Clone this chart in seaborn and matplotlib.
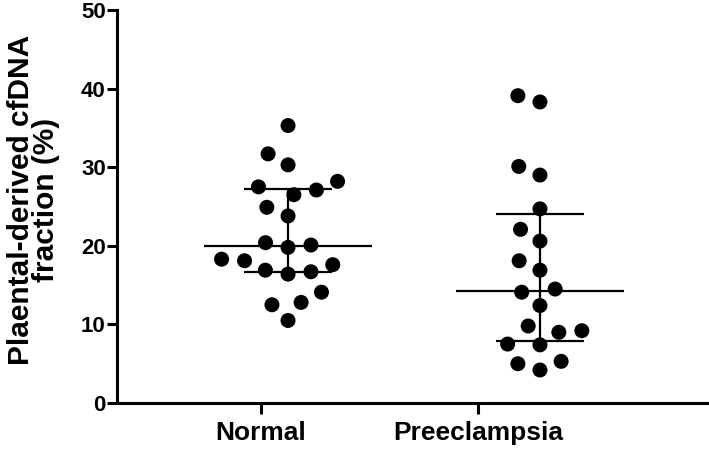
import numpy as np
import pandas as pd
import matplotlib
matplotlib.use('Agg')
import matplotlib.pyplot as plt
import seaborn as sns

# values (%)
groups = ["Normal", "Preeclampsia"]
normal_vals = [35.3, 31.7, 30.3, 27.5, 28.2, 27.1, 26.5, 24.9, 23.8, 19.8, 20.1,
               20.4, 18.3, 18.1, 16.7, 16.4, 16.9, 17.6, 14.1, 12.8, 12.5, 10.5]
pe_vals = [39.1, 38.3, 30.1, 29.0, 24.7, 22.1, 20.6, 18.1, 16.9, 14.5, 14.1,
           12.4, 9.8, 9.2, 9.0, 7.5, 7.4, 5.3, 5.0, 4.2]
y_ticks = [0, 10, 20, 30, 40, 50]
y_label = "Plaental-derived cfDNA\nfraction (%)"

df = pd.DataFrame({
    "group": [groups[0]] * len(normal_vals) + [groups[1]] * len(pe_vals),
    "value": normal_vals + pe_vals,
})

sns.set_style("ticks")
plt.rcParams['font.family'] = ['Liberation Sans', 'DejaVu Sans']
plt.rcParams['font.weight'] = 'bold'
for k in ['text.color', 'axes.labelcolor', 'xtick.color', 'ytick.color', 'axes.edgecolor']:
    plt.rcParams[k] = 'black'

fig = plt.figure(figsize=(7.09, 4.49), dpi=100)
ax = fig.add_axes([0.165, 0.1024, 0.835, 0.8753])

# invisible edge widens the swarm spacing (GraphPad-like spread)
sns.swarmplot(data=df, x="group", y="value", order=groups, color="black",
              size=10.8, linewidth=5, edgecolor="none", ax=ax)

# median with interquartile range (GraphPad style quartiles)
for i, g in enumerate(groups):
    vals = df.loc[df["group"] == g, "value"].values
    q1, med, q3 = np.percentile(vals, [25, 50, 75], method="weibull")
    ax.hlines(med, i - 0.333, i + 0.333, color="black", lw=1.6, zorder=3)
    ax.hlines([q1, q3], i - 0.175, i + 0.175, color="black", lw=1.6, zorder=3)
    ax.vlines(i, q1, q3, color="black", lw=1.6, zorder=3)

ax.set_xlim(-0.679, 1.671)
ax.set_ylim(0, 50)
ax.set_yticks(y_ticks)
ax.set_xticks([-0.107, 0.754])
ax.set_xticklabels(groups, fontsize=19, fontweight='bold')
ax.tick_params(axis='y', labelsize=16, width=2.2, length=7, pad=1)
ax.tick_params(axis='x', width=2.2, length=8, pad=5)
for lab in ax.get_yticklabels():
    lab.set_fontweight('bold')

ax.set_xlabel("")
ax.set_ylabel(y_label, fontsize=21.5, fontweight='bold', linespacing=0.85)
ax.yaxis.set_label_coords(-0.096, 0.517)

sns.despine(ax=ax)
for s in ["left", "bottom"]:
    ax.spines[s].set_linewidth(2.2)

fig.savefig("out.png", dpi=100)
